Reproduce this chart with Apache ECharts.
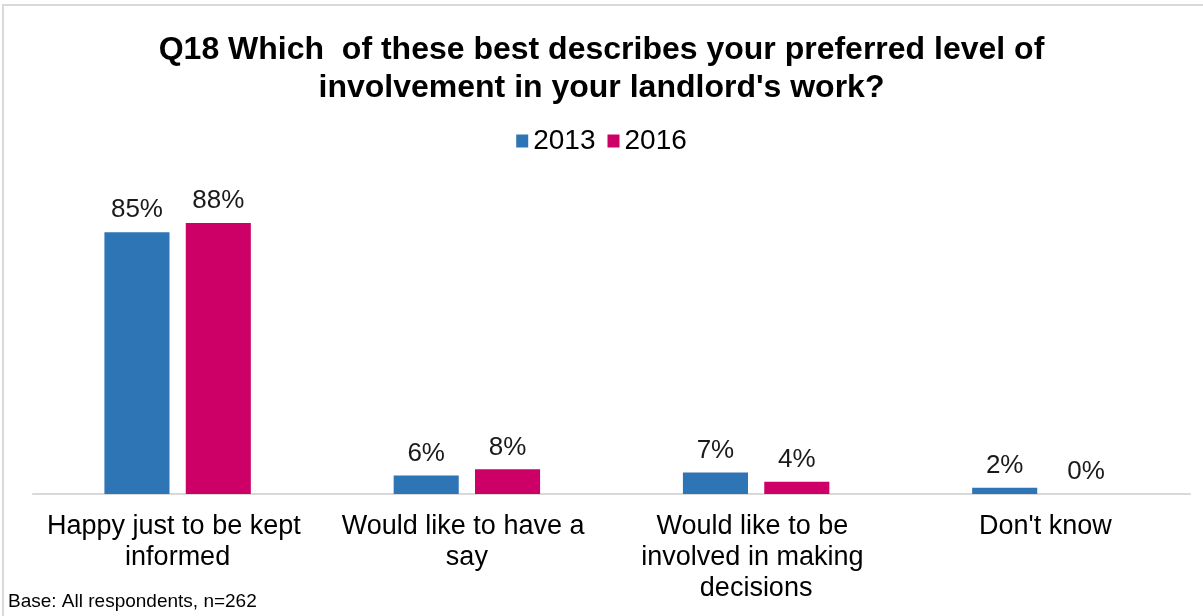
<!DOCTYPE html>
<html><head><meta charset="utf-8">
<script src="https://cdn.jsdelivr.net/npm/echarts@6/dist/echarts.min.js"></script>
<style>html,body{margin:0;padding:0;background:#fff}#c{width:1203px;height:616px}</style>
</head><body><div id="c"></div>
<script>
const categories = ["Happy just to be kept informed", "Would like to have a say", "Would like to be involved in making decisions", "Don't know"];
const values2013 = [85, 6, 7, 2];
const values2016 = [88, 8, 4, 0];
const seriesNames = ["2013", "2016"];
const titleText = "Q18 Which  of these best describes your preferred level of\ninvolvement in your landlord's work?";
const footText = "Base: All respondents, n=262";

const chart = echarts.init(document.getElementById('c'));
const font = "Liberation Sans, Arial, sans-serif";
const lbl = {show:true, position:'top', formatter: p => p.value + '%', fontSize:26, color:'#1a1a1a', fontFamily:font, distance:9};
chart.setOption({
  animation:false,
  graphic:[
    {type:'rect', shape:{x:3,y:5,width:1220,height:640}, style:{fill:'none', stroke:'#d9d9d9', lineWidth:2}},
    {type:'text', left:8, top:592, style:{text:footText, fontSize:19, fill:'#000', fontFamily:font}}
  ],
  title:{text:titleText, left:'center', top:26, textStyle:{fontSize:32, fontWeight:'bold', color:'#000', fontFamily:font, lineHeight:38}},
  legend:{top:122, left:'center', itemWidth:12, itemHeight:13, itemGap:12, textStyle:{fontSize:28, color:'#000', fontFamily:font}, icon:'rect'},
  grid:{left:33, right:13, top:186, bottom:122},
  xAxis:{type:'category', data:categories, axisTick:{show:false},
    axisLine:{lineStyle:{color:'#d9d9d9', width:2}},
    axisLabel:{fontSize:27, color:'#000', fontFamily:font, width:272, overflow:'break', lineHeight:31, margin:17, interval:0}},
  yAxis:{type:'value', min:0, max:100, show:false, splitLine:{show:false}},
  series:[
    {name:seriesNames[0], type:'bar', data:values2013, itemStyle:{color:'#2E75B6'}, barWidth:'22.5%', barGap:'25%', label:lbl},
    {name:seriesNames[1], type:'bar', data:values2016, itemStyle:{color:'#CC0066'}, barWidth:'22.5%', label:lbl}
  ]
});
</script></body></html>
